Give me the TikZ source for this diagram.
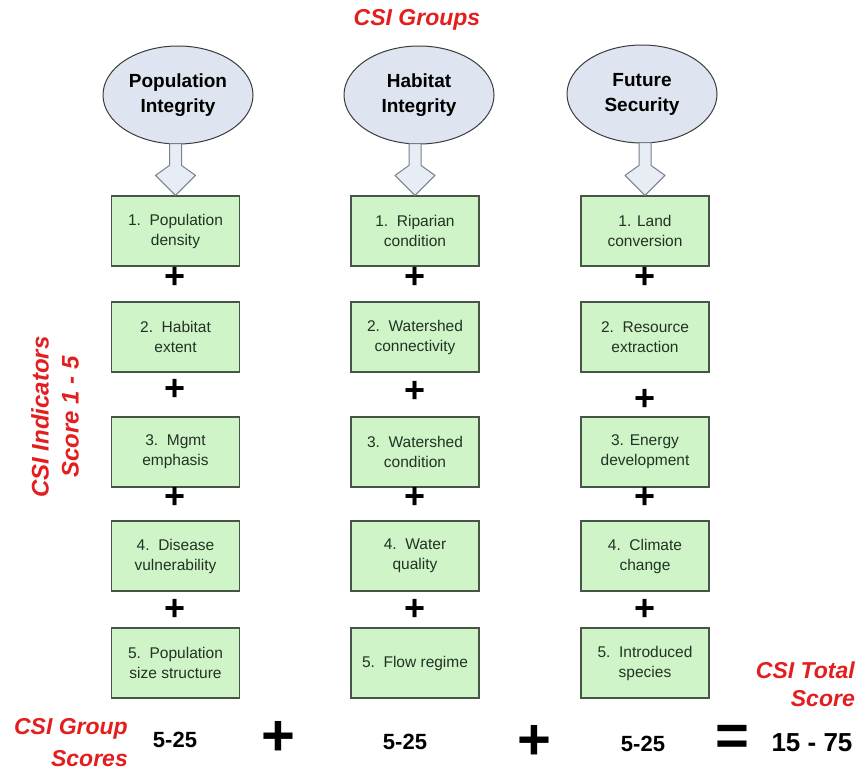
\documentclass[tikz,border=0pt]{standalone}
\usepackage{fontspec}
\setmainfont{Liberation Sans}
\usetikzlibrary{shapes.geometric,calc}
\definecolor{csired}{RGB}{228,30,30}
\definecolor{boxfill}{RGB}{206,244,200}
\definecolor{boxdraw}{RGB}{70,85,70}
\definecolor{boxtext}{RGB}{35,50,35}
\definecolor{ellfill}{RGB}{222,228,240}
\definecolor{elldraw}{RGB}{60,60,60}
\definecolor{arrfill}{RGB}{232,236,244}
\definecolor{arrdraw}{RGB}{120,128,140}
\begin{document}
\begin{tikzpicture}[x=1pt,y=-1pt,
  indbox/.style={draw=boxdraw, fill=boxfill, line width=1.2pt, minimum width=128pt, minimum height=70pt, inner sep=0pt, align=center, text=boxtext, font=\fontsize{15.5}{20}\selectfont},
  group/.style={ellipse, draw=elldraw, fill=ellfill, line width=1pt, minimum width=150pt, minimum height=98pt, inner sep=0pt, align=center, font=\bfseries\fontsize{19}{25}\selectfont},
  plussm/.style={font=\bfseries\fontsize{36}{36}\selectfont, inner sep=0pt},
  plusbig/.style={font=\bfseries\fontsize{58}{58}\selectfont, inner sep=0pt},
  score/.style={font=\bfseries\fontsize{22}{22}\selectfont, inner sep=0pt},
  redlab/.style={text=csired, font=\bfseries\itshape\fontsize{23}{28}\selectfont, inner sep=0pt},
  blockarrow/.style={draw=arrdraw, fill=arrfill, line width=1pt, line join=round}
]
\fill[white] (0,0) rectangle (864,771);
\useasboundingbox (0,0) rectangle (864,771);

% title
\node[redlab] (title) at (417,20) {CSI Groups};

% group ellipses
\node[group] (e1) at (178,95) {Population\\Integrity};
\node[group] (e2) at (419,95) {Habitat\\Integrity};
\node[group] (e3) at (642,94) {Future\\Security};

% indicator boxes
\node[indbox] (b11) at (175.5,231) {1.\ \ Population\\density};
\node[indbox] (b12) at (175.5,337) {2.\ \ Habitat\\extent};
\node[indbox] (b13) at (175.5,452) {3.\ \ Mgmt\\emphasis};
\node[indbox] (b14) at (175.5,556) {4.\ \ Disease\\vulnerability};
\node[indbox] (b15) at (175.5,663) {5.\ \ Population\\size structure};

\node[indbox] (b21) at (415,231) {1.\ \ Riparian\\condition};
\node[indbox] (b22) at (415,337) {2.\ \ Watershed\\connectivity};
\node[indbox] (b23) at (415,452) {3.\ \ Watershed\\condition};
\node[indbox] (b24) at (415,556) {4.\ \ Water\\quality};
\node[indbox] (b25) at (415,663) {5.\ \ Flow regime};

\node[indbox] (b31) at (645,231) {1. Land\\conversion};
\node[indbox] (b32) at (645,337) {2.\ \ Resource\\extraction};
\node[indbox] (b33) at (645,452) {3. Energy\\development};
\node[indbox] (b34) at (645,556) {4.\ \ Climate\\change};
\node[indbox] (b35) at (645,663) {5.\ \ Introduced\\species};

% block arrows from groups to first indicators
\foreach \e/\b in {e1/b11, e2/b21, e3/b31}{
  \draw[blockarrow] ($(\e.south -| \b.north)+(-6,-1)$) -- ($(\b.north)+(-6,-30)$)
    -- ($(\b.north)+(-20,-20)$) -- (\b.north) -- ($(\b.north)+(20,-20)$)
    -- ($(\b.north)+(6,-30)$) -- ($(\e.south -| \b.north)+(6,-1)$) -- cycle;
}

% small plus signs
\node[plussm] (p11) at (175.5,278) {+};
\node[plussm] (p12) at (175.5,390) {+};
\node[plussm] (p13) at (175.5,498) {+};
\node[plussm] (p14) at (175.5,610) {+};
\node[plussm] (p21) at (415,278) {+};
\node[plussm] (p22) at (415,392) {+};
\node[plussm] (p23) at (415,498) {+};
\node[plussm] (p24) at (415,610) {+};
\node[plussm] (p31) at (645,278) {+};
\node[plussm] (p32) at (645,400) {+};
\node[plussm] (p33) at (645,498) {+};
\node[plussm] (p34) at (645,610) {+};

% side label
\node[redlab, rotate=90, align=center, font=\bfseries\itshape\fontsize{24}{30}\selectfont] (ind) at (55,417) {CSI Indicators\\Score 1 - 5};

% bottom row
\node[redlab, align=right, anchor=north east, font=\bfseries\itshape\fontsize{23}{32}\selectfont] (gs) at (128,718) {CSI Group\\Scores};
\node[score] (s1) at (175,740) {5-25};
\node[plusbig] (bp1) at (278,738) {+};
\node[score] (s2) at (405,742) {5-25};
\node[plusbig] (bp2) at (534,742) {+};
\node[score] (s3) at (643,744) {5-25};
\node[plusbig] (eq) at (732,740) {=};
\node[font=\bfseries\fontsize{26}{26}\selectfont, inner sep=0pt] (tot) at (812,743) {15 - 75};
\node[redlab, align=right, anchor=north east] (ts) at (855,662) {CSI Total\\Score};
\end{tikzpicture}
\end{document}
